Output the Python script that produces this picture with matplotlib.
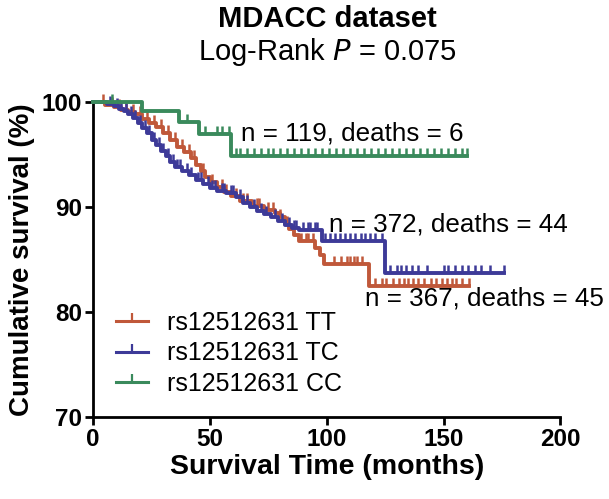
import numpy as np
import matplotlib
matplotlib.use('Agg')
import matplotlib.pyplot as plt
from matplotlib.lines import Line2D

plt.rcParams['font.family'] = ['Liberation Sans', 'DejaVu Sans']

# step times (months) and survival (%) after each drop
tt_times = [5, 9, 12, 15, 18, 21, 24, 27, 30, 33, 36, 39, 42, 44, 46, 48, 50, 53, 56, 59,
            63, 68, 73, 78, 80, 82, 84, 86, 88, 95, 97, 99, 118]
tt_surv = [99.7, 99.5, 99.2, 99.0, 98.8, 98.4, 98.0, 97.6, 97.0, 96.4, 95.7, 95.2, 94.7, 94.0,
           93.4, 92.8, 92.4, 91.9, 91.4, 91.0, 90.6, 90.1, 89.7, 89.4, 89.0, 88.4, 87.9, 87.3,
           86.8, 86.1, 85.4, 84.6, 82.5]
tt_end = 161
tt_cens = [4, 8, 11, 14, 17, 20, 23, 26, 29, 32, 35, 38, 41, 43, 47, 51, 55, 57, 61, 64,
           66, 70, 71, 75, 77, 80, 83, 89, 91, 92, 94, 103, 106, 108.5,
           110, 111.5, 113, 115, 120.5, 123.5, 125.5, 128.5, 131, 133, 135, 137, 139, 141.5,
           144.5, 147, 149.5, 151.5, 153.5, 155.5, 158, 161]

tc_times = [6, 9, 11, 13, 15, 17, 19, 21, 23, 25, 27, 29, 31, 33, 35, 38, 41, 44, 47, 50,
            53, 57, 61, 64, 67, 70, 73, 76, 79, 82, 85, 88, 98, 125]
tc_surv = [99.8, 99.6, 99.3, 99.1, 98.8, 98.5, 98.0, 97.5, 97.0, 96.4, 95.9, 95.3, 94.8, 94.3,
           93.8, 93.4, 93.0, 92.6, 92.2, 91.8, 91.5, 91.3, 90.9, 90.4, 90.0, 89.6, 89.3, 89.0,
           88.7, 88.3, 88.0, 87.8, 86.8, 83.7]
tc_end = 176
tc_cens = [7, 10, 12, 14, 16, 18, 20, 22, 24, 26, 28, 30, 32, 34, 36, 37, 40, 42, 45, 46,
           49, 51, 52, 55, 56, 59, 60, 63, 66, 69, 72, 74, 78, 81, 84, 86, 87, 90, 92, 93, 95, 96,
           99.3, 101.5, 103.5, 105.5, 108, 110, 112, 114.5, 116.5, 118.5, 120.5, 123.5,
           127, 130, 132, 134, 136.5, 139, 143, 150, 152, 155, 158, 160.5, 163.5, 166, 170, 176]

cc_times = [20.7, 36.7, 45.4, 59.1]
cc_surv = [99.1, 98.1, 96.9, 94.8]
cc_end = 160
cc_cens = [8, 40, 48, 53, 55, 58, 61, 63, 66, 69, 72, 75, 77, 80, 83, 86, 89, 92, 95, 98,
           101, 104, 107, 110, 113, 116, 119, 122, 125, 128, 131, 134, 137, 140, 143, 146,
           149, 152, 155, 158, 160]

labels = ['rs12512631 TT', 'rs12512631 TC', 'rs12512631 CC']
colors = ['#C0583A', '#3D3A98', '#3A8A5C']
notes = ['n = 367, deaths = 45', 'n = 372, deaths = 44', 'n = 119, deaths = 6']

fig = plt.figure(figsize=(6.09, 4.99), dpi=100)
ax = fig.add_axes([0.153, 0.164, 0.767, 0.632])

groups = [(tt_times, tt_surv, tt_end, tt_cens),
          (tc_times, tc_surv, tc_end, tc_cens),
          (cc_times, cc_surv, cc_end, cc_cens)]

for (times, surv, end, cens), col in zip(groups, colors):
    t = np.array([0] + times + [end])
    s = np.array([100] + surv + [surv[-1]])
    ax.step(t, s, where='post', color=col, lw=2.8, clip_on=False, zorder=3)
    idx = np.searchsorted(t, cens, side='right') - 1
    ax.plot(cens, s[idx], ls='none', marker=2, ms=6, mew=1.8, color=col,
            clip_on=False, zorder=3)

# annotations
ax.text(63.5, 97.0, notes[2], fontsize=18.7, va='center')
ax.text(101, 88.3, notes[1], fontsize=18.7, va='center')
ax.text(116.5, 81.3, notes[0], fontsize=18.7, va='center')

handles = [Line2D([0, 0.5, 1], [0, 0, 0], color=c, lw=2.2, marker=2, ms=6, mew=1.6,
                  markevery=[1]) for c in colors]
leg = ax.legend(handles, labels, loc='lower left', bbox_to_anchor=(0.0, -0.003),
                frameon=False, fontsize=18, handlelength=1.3, handletextpad=0.75,
                labelspacing=0.25)

ax.set_xlim(0, 200)
ax.set_ylim(70, 100)
ax.set_xticks([0, 50, 100, 150, 200])
ax.set_yticks([70, 80, 90, 100])
for sp in ['top', 'right']:
    ax.spines[sp].set_visible(False)
for sp in ['left', 'bottom']:
    ax.spines[sp].set_linewidth(2)
ax.tick_params(direction='out', length=6, width=2, labelsize=17.5, pad=2)
for lab in ax.get_xticklabels() + ax.get_yticklabels():
    lab.set_fontweight('bold')

ax.set_xlabel('Survival Time (months)', fontsize=20.5, fontweight='bold', labelpad=2)
ax.set_ylabel('Cumulative survival (%)', fontsize=20, fontweight='bold', labelpad=5)

fig.text(0.537, 0.962, 'MDACC dataset', fontsize=21, fontweight='bold',
         ha='center', va='center')
fig.text(0.537, 0.895, 'Log-Rank $\\it{P}$ = 0.075', fontsize=21, ha='center', va='center')

fig.savefig('out.png', dpi=100)
